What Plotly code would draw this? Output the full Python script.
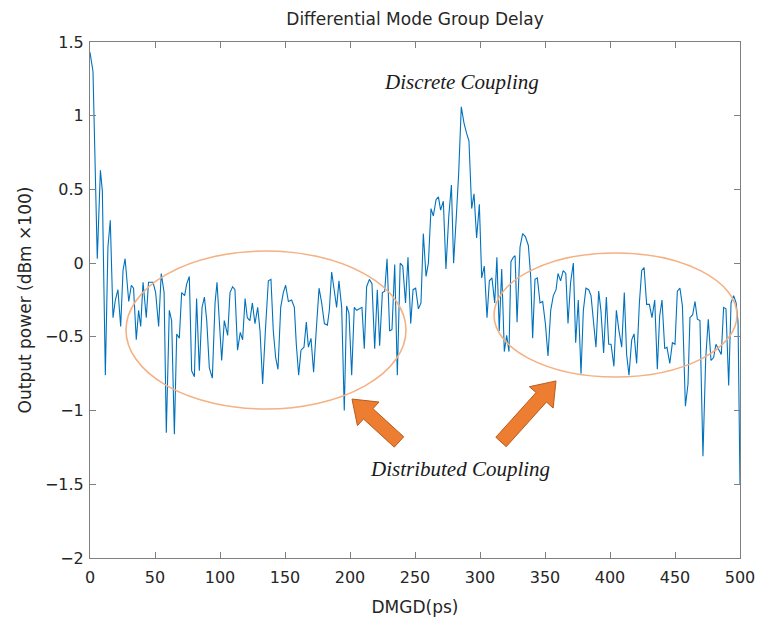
import plotly.graph_objects as go

# ---- data ----
dmgd = [0, 2.3, 5.6, 8, 9.5, 11.8, 13.8, 15.6, 17.7, 19.5, 21.5, 23.6, 25.4, 27, 29.8, 31.8, 33.5,
        35.6, 37.4, 39, 40.8, 43.3, 45, 46.8, 48.5, 50.5, 52.8, 54.8, 57, 58.7, 61, 62.8, 64.9, 66.7,
        68.7, 70.5, 72.8, 74.4, 76.4, 78.2, 80.3, 82, 84.1, 86.2, 88, 89.8, 91.8, 94.1, 96.2, 97.7,
        99.5, 101.3, 103.3, 105.9, 107.7, 109.7, 111.5, 113.5, 115.6, 117.4, 119.3, 121, 123, 124.9,
        126.9, 129, 130.8, 132.8, 134.9, 137.2, 139.2, 141, 142.8, 144.6, 146.7, 148.7, 150.5, 152.6,
        155.1, 157.2, 158.7, 160.5, 162.3, 164.6, 166.4, 168, 170, 172, 174, 176.2, 178.2, 180.3,
        182.6, 184.1, 185.9, 188, 189.7, 191.5, 193.6, 195.6, 197.4, 199.2, 201.3, 203.3, 205.1,
        207.2, 209.2, 211, 212.8, 214.9, 216.9, 219, 221, 222.8, 224.9, 226.7, 228.5, 230.5, 232.3,
        234.4, 236.4, 238.6, 240.6, 242.7, 244.6, 246.7, 248.5, 250.5, 252.6, 254.6, 256.4, 258.5,
        260.3, 262.3, 264.1, 266.2, 268, 269.7, 271.8, 273.8, 276, 278, 279.7, 281.8, 283.6, 285.6,
        287.7, 289.7, 291.5, 293.6, 295.4, 297.4, 299.5, 301.3, 303.3, 305.4, 307.2, 309.2, 311.3,
        313, 314.8, 316.7, 318.7, 320.5, 322.3, 323.8, 325.6, 327, 328.5, 330.8, 332.8, 334.9, 337.2,
        339, 340.5, 342.3, 344.1, 346.2, 348.2, 350.3, 352.3, 354.4, 356.4, 358.5, 360, 362, 364,
        366, 367.7, 369.7, 371.8, 373.6, 375.6, 377.7, 379.5, 381.5, 383.6, 385.4, 387.2, 389.2,
        391.3, 393, 395.1, 397.2, 399, 400.8, 403, 404.9, 406.9, 409, 411, 412.8, 414.6, 416.7,
        418.5, 420.5, 422.6, 424.4, 426.2, 428.2, 430.3, 432.3, 434.4, 436.4, 438.2, 440, 442.1,
        443.8, 446, 448, 450, 451.8, 453.8, 455.7, 458, 460, 461.5, 463.6, 465.4, 467.2, 469.2,
        471.5, 473.6, 475.6, 477.7, 479.7, 481.5, 483.8, 485.6, 487.4, 489.2, 491.3, 493.1, 495.1,
        497, 498.5, 500]
power = [1.43, 1.30, 0.03, 0.63, 0.49, -0.76, 0.11, 0.29, -0.37, -0.25, -0.18, -0.43, -0.05, 0.03,
         -0.26, -0.15, -0.17, -0.52, -0.32, -0.43, -0.13, -0.37, -0.13, -0.13, -0.13, -0.20, -0.43,
         -0.07, -0.20, -1.15, -0.32, -0.39, -1.16, -0.48, -0.51, -0.20, -0.22, -0.14, -0.09, -0.73,
         -0.77, -0.24, -0.73, -0.30, -0.23, -0.39, -0.71, -0.78, -0.27, -0.13, -0.43, -0.66, -0.39,
         -0.49, -0.20, -0.16, -0.18, -0.59, -0.47, -0.52, -0.24, -0.37, -0.39, -0.27, -0.41, -0.30,
         -0.46, -0.82, -0.46, -0.12, -0.11, -0.46, -0.64, -0.72, -0.30, -0.20, -0.15, -0.26, -0.25,
         -0.30, -0.55, -0.76, -0.59, -0.57, -0.40, -0.57, -0.51, -0.74, -0.46, -0.17, -0.27, -0.41,
         -0.42, -0.32, -0.06, -0.19, -0.30, -0.12, -0.30, -1.00, -0.29, -0.34, -0.76, -0.30, -0.32,
         -0.31, -0.30, -0.58, -0.16, -0.11, -0.14, -0.58, -0.18, -0.56, -0.20, -0.19, 0.03, -0.46,
         -0.45, -0.01, -0.76, 0.00, -0.02, -0.27, 0.04, -0.41, -0.18, -0.17, -0.31, -0.27, 0.20,
         -0.09, 0.00, 0.37, 0.32, 0.43, 0.45, 0.36, 0.42, -0.04, 0.32, 0.53, 0.00, 0.32, 0.61, 1.06,
         0.95, 0.88, 0.83, 0.37, 0.47, 0.17, 0.40, -0.10, -0.02, -0.37, -0.12, -0.10, -0.27, 0.04,
         -0.46, -0.04, -0.60, -0.49, -0.60, 0.01, 0.04, 0.05, -0.40, 0.11, 0.20, 0.18, 0.12, -0.09,
         -0.51, -0.11, -0.10, -0.27, -0.26, -0.41, -0.63, -0.32, -0.22, -0.18, -0.07, -0.12, -0.05,
         -0.07, -0.41, -0.13, 0.00, -0.54, -0.25, -0.75, -0.32, -0.17, -0.18, -0.22, -0.39, -0.57,
         -0.19, -0.32, -0.61, -0.23, -0.55, -0.55, -0.70, -0.32, -0.46, -0.57, -0.20, -0.62, -0.76,
         -0.52, -0.48, -0.68, -0.27, -0.05, -0.03, -0.28, -0.28, -0.37, -0.25, -0.72, -0.36, -0.25,
         -0.58, -0.57, -0.68, -0.54, -0.55, -0.19, -0.17, -0.29, -0.97, -0.82, -0.37, -0.35, -0.26,
         -0.38, -0.39, -1.31, -0.65, -0.38, -0.66, -0.64, -0.55, -0.59, -0.62, -0.30, -0.31, -0.83,
         -0.27, -0.22, -0.27, -0.40, -1.50]

x_ticks = [0, 50, 100, 150, 200, 250, 300, 350, 400, 450, 500]
y_ticks = [-2, -1.5, -1, -0.5, 0, 0.5, 1, 1.5]
y_tick_text = ["\u22122", "\u22121.5", "\u22121", "\u22120.5", "0", "0.5", "1", "1.5"]

title_text = "Differential Mode Group Delay"
x_label = "DMGD(ps)"
y_label = "Output power (dBm \u00d7100)"
note_discrete = "Discrete Coupling"
note_distributed = "Distributed Coupling"

# ---- layout geometry (pixels) ----
W, H = 758, 617
L, R, T, B = 90, 740, 42, 558
X0, X1, Y0, Y1 = 0, 500, -2, 1.5
SANS = "DejaVu Sans, Noto Sans, sans-serif"
SERIF = "Liberation Serif, Times New Roman, serif"
TXT = "#262626"


def dx(px):
    return X0 + (px - L) / (R - L) * (X1 - X0)


def dy(py):
    return Y1 - (py - T) / (B - T) * (Y1 - Y0)


def block_arrow(tail, tip, shaft=14, head_w=32, head_len=22):
    import math
    tx, ty = tail
    hx, hy = tip
    length = math.hypot(hx - tx, hy - ty)
    ux, uy = (hx - tx) / length, (hy - ty) / length
    nx, ny = -uy, ux
    bx, by = hx - ux * head_len, hy - uy * head_len
    pts = [
        (tx + nx * shaft / 2, ty + ny * shaft / 2),
        (bx + nx * shaft / 2, by + ny * shaft / 2),
        (bx + nx * head_w / 2, by + ny * head_w / 2),
        (hx, hy),
        (bx - nx * head_w / 2, by - ny * head_w / 2),
        (bx - nx * shaft / 2, by - ny * shaft / 2),
        (tx - nx * shaft / 2, ty - ny * shaft / 2),
    ]
    return "M " + " L ".join(f"{dx(px):.3f},{dy(py):.3f}" for px, py in pts) + " Z"


fig = go.Figure()
fig.add_trace(go.Scatter(x=dmgd, y=power, mode="lines",
                         line=dict(color="#0072BD", width=1.1), hoverinfo="skip",
                         showlegend=False))

axis_common = dict(showgrid=False, zeroline=False, showline=True, linecolor="#7f7f7f",
                   linewidth=1, mirror="ticks", ticks="inside", ticklen=6, tickcolor="#7f7f7f",
                   tickfont=dict(family=SANS, size=16, color=TXT))

fig.update_xaxes(range=[X0, X1], tickvals=x_ticks, ticktext=[str(v) for v in x_ticks],
                 ticklabelstandoff=5,
                 title=dict(text=x_label, standoff=14,
                            font=dict(family=SANS, size=17, color=TXT)),
                 **axis_common)
fig.update_yaxes(range=[Y0, Y1], tickvals=y_ticks, ticktext=y_tick_text,
                 ticklabelstandoff=2,
                 title=dict(text=y_label, standoff=8,
                            font=dict(family=SANS, size=17, color=TXT)),
                 **axis_common)

shapes = [
    dict(type="circle", xref="x", yref="y", x0=dx(126), x1=dx(406), y0=dy(409), y1=dy(251),
         line=dict(color="#F4B183", width=1.6)),
    dict(type="circle", xref="x", yref="y", x0=dx(494), x1=dx(737), y0=dy(377), y1=dy(253),
         line=dict(color="#F4B183", width=1.6)),
    dict(type="path", xref="x", yref="y", path=block_arrow((399, 442), (352, 399)),
         fillcolor="#ED7D31", line=dict(color="#B85C1F", width=1)),
    dict(type="path", xref="x", yref="y", path=block_arrow((501, 442), (556, 381)),
         fillcolor="#ED7D31", line=dict(color="#B85C1F", width=1)),
]

annotations = [
    dict(x=dx(461), y=dy(82), xref="x", yref="y", text=f"<i>{note_discrete}</i>", showarrow=False,
         font=dict(family=SERIF, size=21, color="#1a1a1a")),
    dict(x=dx(460), y=dy(469), xref="x", yref="y", text=f"<i>{note_distributed}</i>",
         showarrow=False, font=dict(family=SERIF, size=21, color="#1a1a1a")),
]

fig.update_layout(
    width=W, height=H,
    margin=dict(l=L, r=W - R, t=T, b=H - B, autoexpand=False),
    paper_bgcolor="white", plot_bgcolor="white",
    title=dict(text=title_text, x=(L + R) / 2 / W, xanchor="center", y=1 - 19 / H,
               yanchor="middle", font=dict(family=SANS, size=17, color=TXT)),
    shapes=shapes, annotations=annotations,
)

fig.write_html("out.html")
